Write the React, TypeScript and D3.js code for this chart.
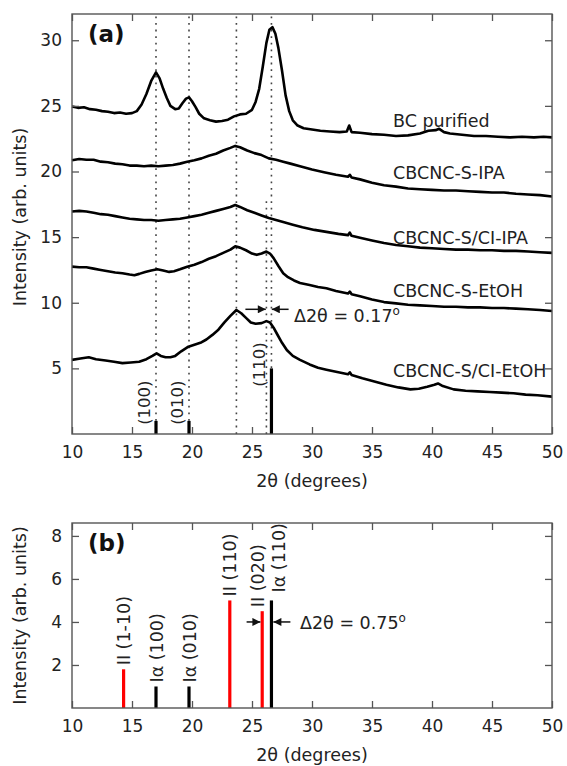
import React, { useEffect, useRef } from "react";
import * as d3 from "d3";

// XRD patterns, [2theta, intensity] (offset curves)
const bcPurified = [
  [10, 24.95], [10.5, 24.85], [11, 24.9], [11.5, 24.75], [12, 24.7], [12.5, 24.6], [13, 24.55], [13.5, 24.45],
  [14, 24.5], [14.5, 24.4], [15, 24.45], [15.4, 24.6], [15.8, 25.1], [16.2, 25.9], [16.6, 26.9], [17.0, 27.55],
  [17.3, 27.1], [17.6, 26.3], [17.9, 25.6], [18.2, 25.0], [18.6, 24.75], [18.9, 24.8], [19.2, 25.2], [19.5, 25.55],
  [19.75, 25.65], [20.0, 25.35], [20.3, 24.9], [20.6, 24.4], [21.0, 24.05], [21.5, 23.9], [22, 23.8], [22.5, 23.85],
  [23, 23.95], [23.5, 24.2], [24, 24.35], [24.5, 24.4], [25, 24.7], [25.3, 25.3], [25.6, 26.3], [25.9, 28.0],
  [26.2, 29.8], [26.45, 30.8], [26.7, 31.0], [26.95, 30.5], [27.2, 29.4], [27.5, 27.7], [27.8, 25.8], [28.1, 24.6],
  [28.4, 23.9], [28.8, 23.5], [29.3, 23.3], [30, 23.2], [30.7, 23.1], [31.5, 23.05], [32.3, 23.0], [32.9, 23.05],
  [33.1, 23.5], [33.3, 23.0], [34, 22.95], [35, 22.85], [36, 22.8], [37, 22.7], [38, 22.75], [39, 22.9],
  [39.7, 23.1], [40.3, 23.15], [40.6, 23.25], [41, 23.0], [41.5, 22.9], [42.5, 22.8], [43.5, 22.7], [44.5, 22.7],
  [45.5, 22.65], [46.5, 22.6], [47.5, 22.65], [48.5, 22.6], [49.3, 22.65], [50, 22.6],
];

const sIPA = [
  [10, 20.85], [10.6, 20.95], [11.2, 20.9], [11.8, 20.9], [12.4, 20.75], [13, 20.7], [13.6, 20.6], [14.2, 20.55],
  [14.8, 20.45], [15.4, 20.45], [16, 20.4], [16.6, 20.45], [17.2, 20.4], [17.8, 20.45], [18.4, 20.5], [19, 20.6],
  [19.6, 20.75], [20.2, 20.85], [20.8, 21.0], [21.4, 21.2], [22, 21.35], [22.6, 21.6], [23.2, 21.8], [23.6, 21.95],
  [24, 21.85], [24.6, 21.6], [25.2, 21.4], [25.8, 21.25], [26.4, 21.0], [27, 20.9], [27.6, 20.75], [28.2, 20.6],
  [29, 20.4], [30, 20.15], [31, 19.95], [32, 19.75], [33, 19.6], [33.15, 19.75], [33.3, 19.55], [34, 19.4],
  [35, 19.15], [36, 18.95], [37, 18.85], [38, 18.7], [39, 18.65], [40, 18.6], [41, 18.55], [42, 18.55],
  [43, 18.5], [44, 18.45], [45, 18.4], [46, 18.4], [47, 18.3], [48, 18.25], [49, 18.2], [50, 18.1],
];

const sclIPA = [
  [10, 16.95], [10.6, 17.0], [11.2, 16.95], [11.8, 16.85], [12.4, 16.75], [13, 16.7], [13.6, 16.6], [14.2, 16.5],
  [14.8, 16.4], [15.4, 16.35], [16, 16.3], [16.6, 16.3], [17.2, 16.25], [17.8, 16.3], [18.4, 16.35], [19, 16.4],
  [19.6, 16.5], [20.2, 16.6], [20.8, 16.7], [21.4, 16.85], [22, 17.0], [22.6, 17.15], [23.2, 17.3], [23.6, 17.45],
  [24, 17.3], [24.6, 17.05], [25.2, 16.85], [25.8, 16.65], [26.4, 16.45], [27, 16.3], [27.6, 16.15], [28.4, 15.95],
  [29.2, 15.75], [30.2, 15.55], [31.2, 15.4], [32.2, 15.25], [33, 15.15], [33.15, 15.35], [33.3, 15.1], [34, 14.95],
  [35, 14.75], [36, 14.55], [37, 14.4], [38, 14.3], [39, 14.2], [40, 14.15], [41, 14.1], [42, 14.05],
  [43, 14.05], [44, 14.0], [45, 14.0], [46, 13.95], [47, 13.95], [48, 13.9], [49, 13.85], [50, 13.8],
];

const sEtOH = [
  [10, 12.75], [10.6, 12.7], [11.2, 12.7], [11.8, 12.6], [12.4, 12.5], [13, 12.4], [13.6, 12.3], [14.2, 12.25],
  [14.8, 12.15], [15.2, 12.1], [15.6, 12.2], [16.1, 12.35], [16.6, 12.45], [17.1, 12.55], [17.6, 12.45], [18.1, 12.35],
  [18.5, 12.4], [19, 12.55], [19.6, 12.75], [20.2, 12.9], [20.8, 13.1], [21.4, 13.35], [22, 13.55], [22.6, 13.8],
  [23.2, 14.05], [23.6, 14.3], [24, 14.2], [24.5, 14.0], [25, 13.75], [25.4, 13.65], [25.8, 13.75], [26.2, 13.9],
  [26.5, 13.75], [26.8, 13.4], [27.2, 12.8], [27.6, 12.25], [28, 11.95], [28.5, 11.7], [29, 11.5], [29.8, 11.35],
  [30.5, 11.2], [31.2, 11.1], [32, 10.9], [33, 10.7], [33.15, 10.85], [33.3, 10.65], [34, 10.5], [35, 10.25],
  [36, 10.05], [37, 9.95], [38, 9.85], [39, 9.8], [40, 9.75], [41, 9.7], [42, 9.7], [43, 9.65],
  [44, 9.65], [45, 9.6], [46, 9.6], [47, 9.55], [48, 9.5], [49, 9.45], [50, 9.37],
];

const sclEtOH = [
  [10, 5.65], [10.7, 5.75], [11.4, 5.85], [12, 5.7], [12.8, 5.6], [13.5, 5.5], [14.2, 5.4], [14.9, 5.45],
  [15.6, 5.5], [16.2, 5.7], [16.7, 5.95], [17.05, 6.15], [17.4, 5.95], [17.8, 5.85], [18.2, 5.85], [18.6, 5.95],
  [19.1, 6.3], [19.7, 6.65], [20.2, 6.8], [20.7, 6.95], [21.2, 7.2], [21.7, 7.55], [22.2, 7.95], [22.7, 8.5],
  [23.2, 9.0], [23.7, 9.45], [24.1, 9.2], [24.5, 8.85], [24.9, 8.5], [25.3, 8.4], [25.8, 8.45], [26.2, 8.6],
  [26.5, 8.5], [26.8, 8.1], [27.1, 7.6], [27.5, 6.95], [27.9, 6.4], [28.4, 5.95], [29, 5.65], [29.8, 5.3],
  [30.5, 5.05], [31.2, 4.9], [32.2, 4.7], [33, 4.55], [33.15, 4.7], [33.3, 4.5], [34.2, 4.25], [35.2, 4.0],
  [36.2, 3.75], [37.2, 3.55], [38.2, 3.4], [38.9, 3.45], [39.6, 3.6], [40.2, 3.75], [40.5, 3.85], [40.9, 3.65],
  [41.8, 3.4], [42.8, 3.3], [43.8, 3.25], [44.8, 3.2], [45.8, 3.15], [46.8, 3.1], [47.8, 3.0], [48.8, 2.95],
  [50, 2.85],
];

const sampleNames = ["BC purified", "CBCNC-S-IPA", "CBCNC-S/CI-IPA", "CBCNC-S-EtOH", "CBCNC-S/CI-EtOH"];
const samplePatterns = [bcPurified, sIPA, sclIPA, sEtOH, sclEtOH];
// where each name sits (2theta, intensity of baseline)
const sampleLabelAt = [[36.75, 23.4], [36.75, 19.4], [36.75, 14.5], [36.75, 10.45], [36.75, 4.35]];

// dotted guide lines: position and top end
const guideAngles = [17.0, 19.75, 23.7, 26.2, 26.62];
const guideTops = [32, 32, 32, 17.8, 32];

// Iα reference sticks in panel (a)
const iaAngles = [17.0, 19.75, 26.62];
const iaHeights = [1, 1, 5];
const iaLabels = ["(100)", "(010)", "(110)"];
const iaLabelStart = [0.7, 0.7, 3.6];

// panel (b) reference sticks
const refAngles = [14.3, 17.0, 19.75, 23.15, 25.85, 26.62];
const refHeights = [1.8, 1, 1, 5, 4.5, 5];
const refLabels = ["II (1-10)", "Iα (100)", "Iα (010)", "II (110)", "II (020)", "Iα (110)"];
const refPhase = ["II", "Iα", "Iα", "II", "II", "Iα"];

const xTicks = [10, 15, 20, 25, 30, 35, 40, 45, 50];
const yTicksA = [5, 10, 15, 20, 25, 30];
const yTicksB = [2, 4, 6, 8];

const FONT = "DejaVu Sans, Verdana, sans-serif";
const TXT = "#222";
const AX = "#555";

function drawAxes(svg, x, y, yTicks) {
  const [y0, y1] = y.range();
  const [x0, x1] = x.range();
  const styleAxis = (g, labels) => {
    g.select(".domain").remove();
    g.selectAll("line").attr("stroke", AX).attr("stroke-width", 1.3);
    g.attr("font-family", null).attr("font-size", null);
    if (labels) g.selectAll("text").attr("font-family", FONT).attr("font-size", 17).attr("fill", TXT);
    else g.selectAll("text").remove();
  };

  svg.append("g").attr("transform", `translate(0,${y0})`)
    .call(d3.axisBottom(x).tickValues(xTicks).tickSize(-7).tickPadding(12).tickFormat(d3.format("d")))
    .call((g) => styleAxis(g, true));
  svg.append("g").attr("transform", `translate(0,${y1})`)
    .call(d3.axisTop(x).tickValues(xTicks).tickSize(-7))
    .call((g) => styleAxis(g, false));
  svg.append("g").attr("transform", `translate(${x0},0)`)
    .call(d3.axisLeft(y).tickValues(yTicks).tickSize(-7).tickPadding(10).tickFormat(d3.format("d")))
    .call((g) => styleAxis(g, true));
  svg.append("g").attr("transform", `translate(${x1},0)`)
    .call(d3.axisRight(y).tickValues(yTicks).tickSize(-7))
    .call((g) => styleAxis(g, false));

  svg.append("rect")
    .attr("x", x0).attr("y", y1).attr("width", x1 - x0).attr("height", y0 - y1)
    .attr("fill", "none").attr("stroke", AX).attr("stroke-width", 1.4);
}

function axisTitles(svg, x, y, panel, titleY) {
  const [y0, y1] = y.range();
  const [x0, x1] = x.range();
  svg.append("text").attr("x", (x0 + x1) / 2).attr("y", titleY)
    .attr("text-anchor", "middle").attr("font-family", FONT).attr("font-size", 17.5).attr("fill", TXT)
    .text("2θ (degrees)");
  const cy = (y0 + y1) / 2 - (panel === "(a)" ? 7 : 0);
  svg.append("text").attr("transform", `translate(20,${cy}) rotate(-90)`)
    .attr("text-anchor", "middle").attr("dy", "0.35em")
    .attr("font-family", FONT).attr("font-size", 17.5).attr("fill", TXT)
    .text("Intensity (arb. units)");
  svg.append("text").attr("x", x0 + 16).attr("y", y1 + 28)
    .attr("font-family", FONT).attr("font-size", 23).attr("font-weight", "bold").attr("fill", "#111")
    .text(panel);
}

function deltaLabel(svg, px, py, value) {
  const t = svg.append("text").attr("x", px).attr("y", py)
    .attr("font-family", FONT).attr("font-size", 17.5).attr("fill", TXT);
  t.append("tspan").text(`Δ2θ = ${value}`);
  t.append("tspan").attr("dy", -7).attr("font-size", 12).text("o");
}

function drawChart(svgEl) {
  const svg = d3.select(svgEl);
  svg.selectAll("*").remove();

  svg.append("defs").append("marker")
    .attr("id", "head").attr("viewBox", "0 0 10 10").attr("refX", 10).attr("refY", 5)
    .attr("markerWidth", 9).attr("markerHeight", 8).attr("markerUnits", "userSpaceOnUse")
    .attr("orient", "auto")
    .append("path").attr("d", "M0,0L10,5L0,10z").attr("fill", "#111");

  const x = d3.scaleLinear().domain([10, 50]).range([72, 552]);

  // ---- panel (a)
  const ya = d3.scaleLinear().domain([0, 32]).range([434, 14]);
  const a = svg.append("g");

  a.selectAll("line.guide").data(guideAngles).join("line")
    .attr("class", "guide")
    .attr("x1", (d) => x(d)).attr("x2", (d) => x(d))
    .attr("y1", ya(0)).attr("y2", (d, i) => ya(guideTops[i]))
    .attr("stroke", "#444").attr("stroke-width", 1.6).attr("stroke-dasharray", "1.8 4.8");

  a.selectAll("line.stick").data(iaAngles).join("line")
    .attr("class", "stick")
    .attr("x1", (d) => x(d)).attr("x2", (d) => x(d))
    .attr("y1", ya(0)).attr("y2", (d, i) => ya(iaHeights[i]))
    .attr("stroke", "#000").attr("stroke-width", 3.2);

  a.selectAll("text.stick").data(iaAngles).join("text")
    .attr("class", "stick")
    .attr("transform", (d, i) => `translate(${x(d) - 12},${ya(iaLabelStart[i])}) rotate(-90)`)
    .attr("dy", "0.35em").attr("font-family", FONT).attr("font-size", 16.5).attr("fill", TXT)
    .text((d, i) => iaLabels[i]);

  const line = d3.line().x((d) => x(d[0])).y((d) => ya(d[1]));
  a.selectAll("path.pattern").data(samplePatterns).join("path")
    .attr("class", "pattern")
    .attr("d", line)
    .attr("fill", "none").attr("stroke", "#000").attr("stroke-width", 2.6)
    .attr("stroke-linejoin", "round");

  a.selectAll("text.sample").data(sampleNames).join("text")
    .attr("class", "sample")
    .attr("x", (d, i) => x(sampleLabelAt[i][0])).attr("y", (d, i) => ya(sampleLabelAt[i][1]))
    .attr("font-family", FONT).attr("font-size", 17.5).attr("fill", TXT)
    .text((d) => d);

  a.append("line").attr("x1", x(24.45)).attr("x2", x(26.15)).attr("y1", ya(9.5)).attr("y2", ya(9.5))
    .attr("stroke", "#111").attr("stroke-width", 1.5).attr("marker-end", "url(#head)");
  a.append("line").attr("x1", x(28.05)).attr("x2", x(26.65)).attr("y1", ya(9.5)).attr("y2", ya(9.5))
    .attr("stroke", "#111").attr("stroke-width", 1.5).attr("marker-end", "url(#head)");
  deltaLabel(a, x(28.5), ya(8.5), "0.17");

  drawAxes(a, x, ya, yTicksA);
  axisTitles(a, x, ya, "(a)", 487);

  // ---- panel (b)
  const yb = d3.scaleLinear().domain([0, 8.6]).range([708, 523]);
  const b = svg.append("g");
  const nudge = [0, 1, 1, 0, -4, 7];

  b.selectAll("line.stick").data(refAngles).join("line")
    .attr("class", "stick")
    .attr("x1", (d) => x(d)).attr("x2", (d) => x(d))
    .attr("y1", yb(0)).attr("y2", (d, i) => yb(refHeights[i]))
    .attr("stroke", (d, i) => (refPhase[i] === "II" ? "#ff0000" : "#000"))
    .attr("stroke-width", 3.2);

  b.selectAll("text.stick").data(refAngles).join("text")
    .attr("class", "stick")
    .attr("transform", (d, i) => `translate(${x(d) + nudge[i]},${yb(refHeights[i]) - (i === 5 ? 8 : 4)}) rotate(-90)`)
    .attr("dy", "0.35em").attr("font-family", FONT).attr("font-size", 17.5).attr("fill", TXT)
    .text((d, i) => refLabels[i]);

  b.append("line").attr("x1", x(24.55)).attr("x2", x(25.7)).attr("y1", yb(4)).attr("y2", yb(4))
    .attr("stroke", "#111").attr("stroke-width", 1.5).attr("marker-end", "url(#head)");
  b.append("line").attr("x1", x(28.2)).attr("x2", x(26.78)).attr("y1", yb(4)).attr("y2", yb(4))
    .attr("stroke", "#111").attr("stroke-width", 1.5).attr("marker-end", "url(#head)");
  deltaLabel(b, x(29.0), yb(4) + 7, "0.75");

  drawAxes(b, x, yb, yTicksB);
  axisTitles(b, x, yb, "(b)", 761);
}

const App = () => {
  const svgEl = useRef(null);

  useEffect(() => {
    if (!svgEl.current) return;
    drawChart(svgEl.current);
  }, [svgEl]);

  return (
    <svg
      ref={svgEl}
      width={567}
      height={766}
      style={{ position: "absolute", left: 0, top: 0, background: "#fff" }}
    />
  );
};

export default App;
